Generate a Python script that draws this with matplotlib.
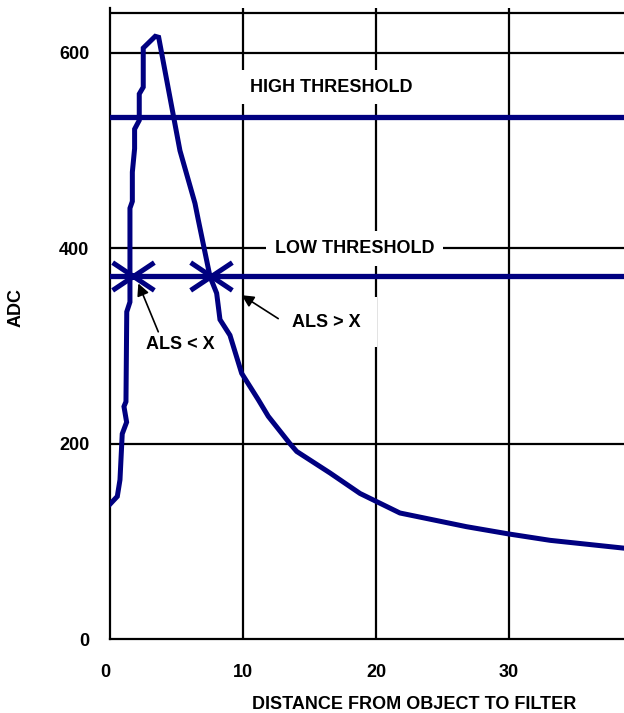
import matplotlib
matplotlib.use("Agg")
import matplotlib.pyplot as plt
from matplotlib.path import Path
from matplotlib.transforms import ScaledTranslation

plt.rcParams['font.family'] = ['Liberation Sans', 'DejaVu Sans']
plt.rcParams['font.weight'] = 'bold'

# ---- data ----
distance = [0.0, 0.55, 0.75, 0.92, 1.25, 1.05, 1.2, 1.26, 1.5, 1.5, 1.68, 1.68,
            1.85, 1.85, 2.2, 2.2, 2.5, 2.5, 3.4, 3.66,
            5.26, 6.39, 6.64, 7.52, 8.02, 8.27, 9.02, 9.9, 11.15, 11.9, 13.53,
            14.04, 16.54, 18.8, 19.85, 21.8, 26.8, 30.0, 33.1, 38.65]
adc = [138, 146, 163, 210, 222, 238, 243, 335, 345, 441, 448, 478,
       502, 522, 531, 558, 565, 605, 617, 616,
       500, 446, 429, 371, 354, 327, 311, 272, 245, 228, 200,
       192, 170, 149, 142, 129, 115, 107.5, 101, 93]

high_threshold = 534
low_threshold = 372
als_x = [1.75, 7.57]

x_ticks = [0, 10, 20, 30]
y_ticks = [0, 200, 400, 600]

navy = '#000080'

fig = plt.figure(figsize=(6.24, 7.13), dpi=100)
ax = fig.add_axes([110/624, (713-639)/713, 1 - 110/624, (639-8)/713])
ax.set_xlim(0, 38.65)
ax.set_ylim(0, 646)

# grid
for xv in x_ticks[1:]:
    ax.axvline(xv, color='black', lw=1.6, zorder=1)
for yv in y_ticks[1:]:
    ax.axhline(yv, color='black', lw=1.6, zorder=1)
ax.axhline(641, color='black', lw=1.6, zorder=1)

for s in ['top', 'right']:
    ax.spines[s].set_visible(False)
for s in ['left', 'bottom']:
    ax.spines[s].set_linewidth(1.6)
    ax.spines[s].set_zorder(1)

ax.set_xticks(x_ticks)
ax.set_yticks(y_ticks)
ax.tick_params(length=0, labelsize=13)
ax.tick_params(axis='x', pad=18)
ax.tick_params(axis='y', pad=15)
fig.canvas.draw()
first = ax.get_xticklabels()[0]
first.set_transform(first.get_transform() + ScaledTranslation(-5/100, 0, fig.dpi_scale_trans))

# thresholds
ax.axhline(high_threshold, color=navy, lw=3.8, zorder=4)
ax.axhline(low_threshold, color=navy, lw=3.8, zorder=4)

# curve
ax.plot(distance, adc, color=navy, lw=3.6, zorder=5, solid_joinstyle='miter')

# asterisk markers
star = Path([(-1.5, -1), (1.5, 1), (-1.5, 1), (1.5, -1), (-1.5, 0), (1.5, 0)],
            [Path.MOVETO, Path.LINETO] * 3)
ax.plot(als_x, [low_threshold] * len(als_x), linestyle='none', marker=star,
        markersize=30, markeredgewidth=3.6, markeredgecolor=navy,
        markerfacecolor='none', zorder=6)

# labels
ax.text(16.6, 565, 'HIGH THRESHOLD', fontsize=13, fontweight='bold',
        ha='center', va='center', zorder=3,
        bbox=dict(boxstyle='square,pad=0.45', fc='white', ec='none'))
ax.text(18.4, 400, 'LOW THRESHOLD', fontsize=13, fontweight='bold',
        ha='center', va='center', zorder=3,
        bbox=dict(boxstyle='square,pad=0.5', fc='white', ec='none'))

ax.text(5.26, 302, 'ALS < X', fontsize=13, fontweight='bold',
        ha='center', va='center', zorder=3)
ax.text(16.3, 324.5, 'ALS > X', fontsize=13, fontweight='bold',
        ha='center', va='center', zorder=3,
        bbox=dict(boxstyle='square,pad=0.9', fc='white', ec='none'))

ax.annotate('', xy=(2.13, 364), xytext=(3.63, 314.5), zorder=3,
            arrowprops=dict(arrowstyle='-|>', color='black', lw=1.2,
                            mutation_scale=18, shrinkA=0, shrinkB=0))
ax.annotate('', xy=(9.9, 352), xytext=(12.65, 328), zorder=3,
            arrowprops=dict(arrowstyle='-|>', color='black', lw=1.2,
                            mutation_scale=18, shrinkA=0, shrinkB=0))

ax.set_xlabel('DISTANCE FROM OBJECT TO FILTER', fontsize=13, fontweight='bold')
ax.xaxis.set_label_coords(0.591, -0.091)
ax.set_ylabel('ADC', fontsize=13, fontweight='bold')
ax.yaxis.set_label_coords(-0.167, 0.526)

fig.savefig('out.png', dpi=100)
